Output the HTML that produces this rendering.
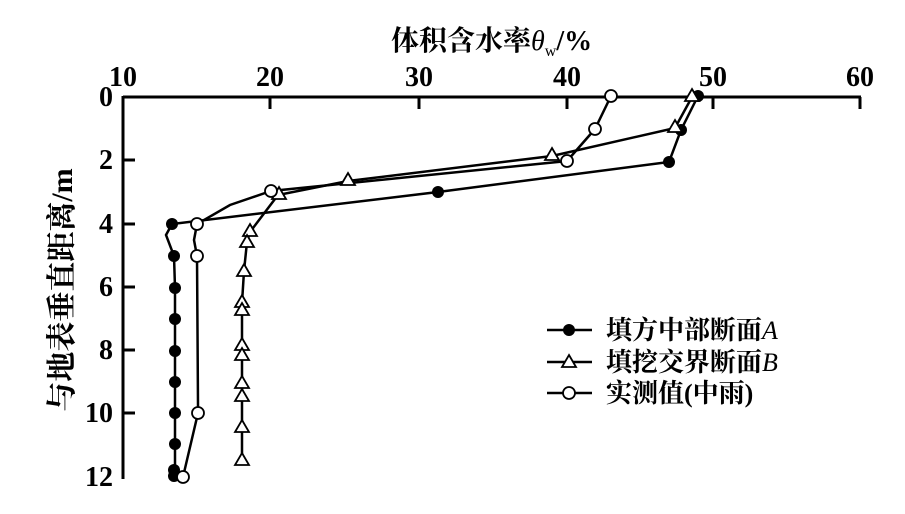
<!DOCTYPE html>
<html><head><meta charset="utf-8"><style>
html,body{margin:0;padding:0;background:#fff;}
svg{display:block;}
text{font-family:"Liberation Serif","Noto Serif CJK SC",serif;fill:#000;font-weight:bold;}
</style></head><body>
<svg width="905" height="514" viewBox="0 0 905 514" xmlns="http://www.w3.org/2000/svg">
<g stroke="#000" stroke-width="3" fill="none">
<line x1="123" y1="97" x2="861" y2="97"/>
<line x1="123" y1="96" x2="123" y2="479"/>
<line x1="270" y1="97" x2="270" y2="109"/>
<line x1="419" y1="97" x2="419" y2="109"/>
<line x1="567" y1="97" x2="567" y2="109"/>
<line x1="713" y1="97" x2="713" y2="109"/>
<line x1="860" y1="97" x2="860" y2="109"/>
<line x1="123" y1="160" x2="135" y2="160"/>
<line x1="123" y1="224" x2="135" y2="224"/>
<line x1="123" y1="287" x2="135" y2="287"/>
<line x1="123" y1="350" x2="135" y2="350"/>
<line x1="123" y1="413" x2="135" y2="413"/>
</g>
<g font-size="28" text-anchor="middle">
<text x="123" y="86">10</text><text x="270" y="86">20</text><text x="419" y="86">30</text>
<text x="567" y="86">40</text><text x="713" y="86">50</text><text x="860" y="86">60</text>
</g>
<g font-size="28" text-anchor="end">
<text x="113" y="106">0</text><text x="113" y="169">2</text><text x="113" y="233">4</text>
<text x="113" y="296">6</text><text x="113" y="359">8</text><text x="113" y="422">10</text>
<text x="113" y="486">12</text>
</g>
<text x="391" y="50" font-size="28">体积含水率<tspan font-style="italic" font-weight="normal">θ</tspan><tspan font-size="16" dy="6" font-weight="normal">w</tspan><tspan dy="-6">/%</tspan></text>
<text transform="translate(72,290) rotate(-90)" font-size="30" text-anchor="middle">与地表垂直距离/m</text>
<g stroke="#000" stroke-width="2.5" fill="none">
<polyline points="698,96 681,130 669,162 438,192 172,224 166,235 174,256 175,288 175,319 175,351 175,382 175,413 175,444 175,470"/>
<polyline points="692,97 675,128 552,156 348,181 278,195 250,232 247,242 244,271 242,303 242,310 242,345 242,355 242,383 242,396 242,427 242,460"/>
<polyline points="611,96 595,129 567,161 271,191 230,205 197,224 194,240 197,256 198,405 198,413 183,477"/>
</g>
<g fill="#000">
<circle cx="698" cy="96" r="6"/><circle cx="681" cy="130" r="6"/><circle cx="669" cy="162" r="6"/>
<circle cx="438" cy="192" r="6"/><circle cx="172" cy="224" r="6"/><circle cx="174" cy="256" r="6"/>
<circle cx="175" cy="288" r="6"/><circle cx="175" cy="319" r="6"/><circle cx="175" cy="351" r="6"/>
<circle cx="175" cy="382" r="6"/><circle cx="175" cy="413" r="6"/><circle cx="175" cy="444" r="6"/>
<circle cx="174" cy="470" r="6"/><circle cx="174" cy="476" r="6"/>
</g>
<g fill="#fff" stroke="#000" stroke-width="1.8">
<path d="M692,89 l7,12 h-14z"/><path d="M675,120 l7,12 h-14z"/><path d="M552,148 l7,12 h-14z"/>
<path d="M348,173 l7,12 h-14z"/><path d="M279,187 l7,12 h-14z"/><path d="M250,224 l7,12 h-14z"/>
<path d="M247,235 l7,12 h-14z"/><path d="M244,264 l7,12 h-14z"/><path d="M242,295 l7,12 h-14z"/>
<path d="M242,303 l7,12 h-14z"/><path d="M242,338 l7,12 h-14z"/><path d="M242,348 l7,12 h-14z"/>
<path d="M242,376 l7,12 h-14z"/><path d="M242,389 l7,12 h-14z"/><path d="M242,420 l7,12 h-14z"/>
<path d="M242,453 l7,12 h-14z"/>
<circle cx="611" cy="96" r="6"/><circle cx="595" cy="129" r="6"/><circle cx="567" cy="161" r="6"/>
<circle cx="271" cy="191" r="6"/><circle cx="197" cy="224" r="6"/><circle cx="197" cy="256" r="6"/>
<circle cx="198" cy="413" r="6"/><circle cx="183" cy="477" r="6"/>
</g>
<g stroke="#000" stroke-width="2.5">
<line x1="547" y1="330" x2="592" y2="330"/>
<line x1="547" y1="362" x2="592" y2="362"/>
<line x1="547" y1="393" x2="592" y2="393"/>
</g>
<circle cx="569" cy="330" r="6" fill="#000"/>
<path d="M569,355 l7,12 h-14z" fill="#fff" stroke="#000" stroke-width="1.8"/>
<circle cx="569" cy="393" r="6" fill="#fff" stroke="#000" stroke-width="1.8"/>
<g font-size="26">
<text x="606" y="339">填方中部断面<tspan font-style="italic" font-weight="normal">A</tspan></text>
<text x="606" y="371">填挖交界断面<tspan font-style="italic" font-weight="normal">B</tspan></text>
<text x="606" y="402">实测值(中雨)</text>
</g>
</svg>
</body></html>
